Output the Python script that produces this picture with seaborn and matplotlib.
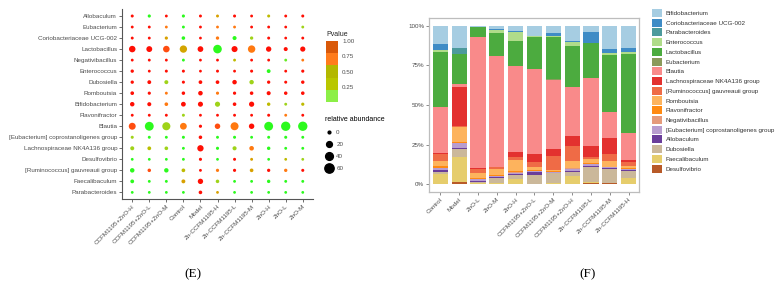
import numpy as np
import pandas as pd
import matplotlib
matplotlib.use("Agg")
import matplotlib.pyplot as plt
from matplotlib.colors import LinearSegmentedColormap, ListedColormap, Normalize
from matplotlib.cm import ScalarMappable
from matplotlib.patches import Patch
from matplotlib.lines import Line2D
import seaborn as sns

plt.rcParams['font.family'] = ['Liberation Sans', 'DejaVu Sans']

# samples in bar order (panel F)
samples = ["Control", "Model", "ZnO-L", "ZnO-M", "ZnO-H",
           "CCFM1195+ZnO-L", "CCFM1195+ZnO-M", "CCFM1195+ZnO-H",
           "Zn-CCFM1195-L", "Zn-CCFM1195-M", "Zn-CCFM1195-H"]

# genera, legend order (top of stack first)
genera = ["Bifidobacterium", "Coriobacteriaceae UCG-002", "Parabacteroides",
          "Enterococcus", "Lactobacillus", "Eubacterium", "Blautia",
          "Lachnospiraceae NK4A136 group", "[Ruminococcus] gauvreauii group",
          "Romboutsia", "Flavonifractor", "Negativibacillus",
          "[Eubacterium] coprostanoligenes group", "Allobaculum",
          "Dubosiella", "Faecalibaculum", "Desulfovibrio"]

genus_colors = ["#a6cde2", "#3f8cc6", "#4c9a9c", "#b0dc8a", "#4cab3f",
                "#8a9a5b", "#f98a8a", "#e3312f", "#ef6b46", "#fdb35d",
                "#ff8a12", "#e59b7b", "#b89dcf", "#6a3d9a", "#cbb89a",
                "#e6cd6c", "#b85a28"]

# relative abundance (%), one value per sample
abundance = {
    "Bifidobacterium":  [11.4, 13.7, 0.5, 2.0, 3.2, 6.5, 4.2, 9.3, 4.0, 14.8, 14.1],
    "Coriobacteriaceae UCG-002": [3.8, 0, 0, 0.5, 0.8, 0.3, 1.9, 0.6, 6.6, 2.5, 2.6],
    "Parabacteroides":  [0, 4.0, 0, 0, 0, 0, 0, 0, 0, 0, 0],
    "Enterococcus":     [1.0, 0, 0.3, 1.7, 5.3, 0.2, 0.9, 2.6, 0.3, 1.1, 0.8],
    "Lactobacillus":    [34.8, 19.0, 6.4, 14.6, 16.0, 20.4, 26.8, 26.1, 21.9, 35.8, 50.0],
    "Eubacterium":      [0.5, 0.3, 0, 0.3, 0.3, 0.3, 0.3, 0.3, 0.3, 0.3, 0.3],
    "Blautia":          [28.9, 1.8, 82.9, 69.9, 53.9, 53.5, 43.7, 30.7, 42.7, 16.6, 17.0],
    "Lachnospiraceae NK4A136 group": [0.3, 24.5, 0.3, 0.3, 3.2, 4.9, 4.3, 6.4, 6.9, 10.1, 1.5],
    "[Ruminococcus] gauvreauii group": [4.6, 0.3, 2.6, 1.2, 2.3, 3.4, 9.0, 9.4, 1.7, 4.2, 2.1],
    "Romboutsia":       [3.3, 10.0, 3.4, 3.8, 6.6, 1.8, 0.6, 4.3, 2.1, 3.6, 1.7],
    "Flavonifractor":   [1.0, 0.2, 0.4, 0.4, 0.9, 0.4, 0.5, 0.4, 0.5, 0.3, 0.3],
    "Negativibacillus": [0.5, 0, 0.2, 0.2, 0.3, 0.3, 0.3, 0.2, 0.3, 0.2, 0.2],
    "[Eubacterium] coprostanoligenes group": [1.0, 3.6, 1.2, 0.5, 0.7, 0.7, 0.5, 1.2, 1.1, 0.4, 0.6],
    "Allobaculum":      [1.5, 0.7, 0.4, 1.0, 1.0, 1.8, 0.3, 1.0, 1.0, 0.3, 0.8],
    "Dubosiella":       [1.3, 4.6, 1.0, 3.1, 2.5, 5.4, 6.2, 2.5, 9.5, 9.0, 4.4],
    "Faecalibaculum":   [5.8, 15.8, 0.4, 0.5, 3.0, 0.3, 0.5, 5.0, 0.2, 0.2, 3.6],
    "Desulfovibrio":    [0.3, 1.5, 0, 0, 0, 0, 0, 0, 0.9, 0.6, 0],
}

# panel E: rows top to bottom, columns left to right
dot_rows = ["Allobaculum", "Eubacterium", "Coriobacteriaceae UCG-002",
            "Lactobacillus", "Negativibacillus", "Enterococcus", "Dubosiella",
            "Romboutsia", "Bifidobacterium", "Flavonifractor", "Blautia",
            "[Eubacterium] coprostanoligenes group",
            "Lachnospiraceae NK4A136 group", "Desulfovibrio",
            "[Ruminococcus] gauvreauii group", "Faecalibaculum", "Parabacteroides"]
dot_cols = ["CCFM1195+ZnO-H", "CCFM1195+ZnO-L", "CCFM1195+ZnO-M", "Control",
            "Model", "Zn-CCFM1195-H", "Zn-CCFM1195-L", "Zn-CCFM1195-M",
            "ZnO-H", "ZnO-L", "ZnO-M"]

pvalue = {
    "Allobaculum":      [0.97, 0.05, 0.97, 0.05, 0.97, 0.62, 0.97, 0.97, 0.52, 0.97, 0.97],
    "Eubacterium":      [0.97, 0.97, 0.75, 0.05, 0.97, 0.75, 0.75, 0.97, 0.97, 0.97, 0.38],
    "Coriobacteriaceae UCG-002": [0.97, 0.97, 0.62, 0.05, 0.97, 0.75, 0.05, 0.38, 0.97, 0.97, 0.97],
    "Lactobacillus":    [0.97, 0.97, 0.85, 0.60, 0.97, 0.05, 0.97, 0.75, 0.97, 0.97, 0.97],
    "Negativibacillus": [0.97, 0.97, 0.97, 0.05, 0.97, 0.97, 0.52, 0.97, 0.97, 0.20, 0.75],
    "Enterococcus":     [0.97, 0.97, 0.97, 0.97, 0.97, 0.97, 0.97, 0.97, 0.05, 0.97, 0.97],
    "Dubosiella":       [0.97, 0.97, 0.38, 0.97, 0.97, 0.97, 0.97, 0.38, 0.97, 0.97, 0.97],
    "Romboutsia":       [0.97, 0.97, 0.75, 0.97, 0.97, 0.75, 0.97, 0.97, 0.97, 0.97, 0.97],
    "Bifidobacterium":  [0.97, 0.97, 0.75, 0.97, 0.97, 0.38, 0.97, 0.97, 0.52, 0.38, 0.52],
    "Flavonifractor":   [0.97, 0.97, 0.97, 0.38, 0.97, 0.97, 0.97, 0.97, 0.97, 0.75, 0.97],
    "Blautia":          [0.85, 0.05, 0.38, 0.75, 0.97, 0.85, 0.75, 0.97, 0.05, 0.05, 0.05],
    "[Eubacterium] coprostanoligenes group": [0.38, 0.05, 0.05, 0.05, 0.97, 0.05, 0.05, 0.05, 0.05, 0.05, 0.05],
    "Lachnospiraceae NK4A136 group": [0.38, 0.50, 0.38, 0.05, 0.97, 0.05, 0.38, 0.75, 0.05, 0.05, 0.05],
    "Desulfovibrio":    [0.05, 0.05, 0.05, 0.05, 0.97, 0.05, 0.97, 0.62, 0.05, 0.52, 0.38],
    "[Ruminococcus] gauvreauii group": [0.05, 0.85, 0.05, 0.52, 0.97, 0.75, 0.97, 0.62, 0.97, 0.75, 0.97],
    "Faecalibaculum":   [0.05, 0.05, 0.05, 0.62, 0.97, 0.38, 0.05, 0.05, 0.05, 0.05, 0.05],
    "Parabacteroides":  [0.05, 0.05, 0.05, 0.05, 0.97, 0.62, 0.05, 0.05, 0.05, 0.05, 0.05],
}

size_breaks = [0, 20, 40, 60]
p_breaks = [0.25, 0.50, 0.75, 1.00]

#### long tables
rows = []
for g in dot_rows:
    for j, c in enumerate(dot_cols):
        rows.append({"genus": g, "group": c, "pvalue": pvalue[g][j],
                     "abundance": abundance[g][samples.index(c)]})
dot_df = pd.DataFrame(rows)

bar_rows = []
for g in genera:
    for i, s in enumerate(samples):
        bar_rows.append({"sample": s, "genus": g, "abundance": abundance[g][i]})
bar_df = pd.DataFrame(bar_rows)
bar_df["sample"] = pd.Categorical(bar_df["sample"], categories=samples, ordered=True)

cmap = LinearSegmentedColormap.from_list(
    "pv", [(0.0, "#1aff1a"), (0.3, "#8fe02a"), (0.5, "#b8c000"), (0.62, "#d8a000"),
           (0.75, "#ff7a10"), (0.88, "#ff4010"), (1.0, "#ff0000")])
size_range = (4, 45)

def dot_area(v):
    return size_range[0] + v / 60 * (size_range[1] - size_range[0])

fig = plt.figure(figsize=(7.8, 2.86), dpi=100)
W, H = 780, 286
txt_col = "#4d4d4d"
fs = 4.5

########## panel E
ax_e = fig.add_axes([122 / W, 1 - 199 / H, 191 / W, 189.6 / H])
sns.scatterplot(data=dot_df, x="group", y="genus", hue="pvalue", size="abundance",
                palette=cmap, hue_norm=(0, 1), sizes=size_range, size_norm=(0, 60),
                linewidth=0, legend=False, ax=ax_e)
ax_e.set_xlim(-0.6, len(dot_cols) - 0.4)
ax_e.set_ylim(len(dot_rows) - 0.4, -0.6)
ax_e.set_xlabel("")
ax_e.set_ylabel("")
for s in ["top", "right"]:
    ax_e.spines[s].set_visible(False)
for s in ["left", "bottom"]:
    ax_e.spines[s].set_color("#555555")
    ax_e.spines[s].set_linewidth(0.8)
ax_e.tick_params(length=2, width=0.6, color="#555555", labelsize=fs, labelcolor=txt_col, pad=1.5)
plt.setp(ax_e.get_xticklabels(), rotation=45, ha="right", va="top", rotation_mode="anchor")

# Pvalue colorbar
fig.text(326 / W, 1 - 34 / H, "Pvalue", fontsize=5, color="#222222", va="center", ha="left")
cax = fig.add_axes([326 / W, 1 - 102 / H, 12 / W, 61 / H])
step_cmap = ListedColormap(["#8cef47", "#b9c700", "#b3b800", "#ff7c1c", "#d9590a"])
cb = fig.colorbar(ScalarMappable(norm=Normalize(0, 1), cmap=step_cmap), cax=cax, ticks=p_breaks)
cb.outline.set_visible(False)
cb.ax.tick_params(length=0, labelsize=fs, labelcolor=txt_col, pad=3)
cb.ax.set_yticklabels(["%.2f" % b for b in p_breaks])

# size legend
size_handles = [Line2D([], [], ls="", marker="o", color="black",
                       markersize=np.sqrt(dot_area(v))) for v in size_breaks]
leg_e = fig.legend(size_handles, [str(v) for v in size_breaks], title="relative abundance",
                   loc="upper left", bbox_to_anchor=(325 / W, 1 - 116 / H), frameon=False,
                   fontsize=fs, title_fontsize=5, alignment="left", labelspacing=1.05,
                   handlelength=1.2, handletextpad=0.6, borderpad=0, borderaxespad=0)
for t in leg_e.get_texts():
    t.set_color(txt_col)

########## panel F
ax_f = fig.add_axes([429 / W, 1 - 192 / H, 210 / W, 174 / H])
sns.histplot(data=bar_df, x="sample", weights="abundance", hue="genus", hue_order=genera,
             multiple="stack", discrete=True, shrink=0.8, alpha=1, linewidth=0,
             palette=dict(zip(genera, genus_colors)), legend=False, ax=ax_f)
ax_f.set_xlim(-0.6, len(samples) - 0.45)
ax_f.set_ylim(-5, 105)
ax_f.set_yticks([0, 25, 50, 75, 100])
ax_f.set_yticklabels(["0%", "25%", "50%", "75%", "100%"])
ax_f.set_xticks(range(len(samples)))
ax_f.set_xticklabels(samples)
ax_f.set_xlabel("")
ax_f.set_ylabel("")
for s in ax_f.spines.values():
    s.set_color("#bdbdbd")
    s.set_linewidth(0.9)
ax_f.tick_params(length=2, width=0.6, color="#777777", labelsize=fs, labelcolor=txt_col, pad=1.5)
plt.setp(ax_f.get_xticklabels(), rotation=45, ha="right", va="top", rotation_mode="anchor")

handles = [Patch(facecolor=c, edgecolor="none") for c in genus_colors]
leg_f = fig.legend(handles, genera, loc="upper left", bbox_to_anchor=(652 / W, 1 - 9 / H),
                   frameon=False, fontsize=fs, handlelength=1.6, handleheight=1.6,
                   labelspacing=0.27, handletextpad=0.6, borderpad=0, borderaxespad=0)
for t in leg_f.get_texts():
    t.set_color("#333333")

# panel labels
fig.text(193 / W, 1 - 274 / H, "(E)", fontsize=9.5, family="Liberation Serif", ha="center", va="center")
fig.text(588 / W, 1 - 274 / H, "(F)", fontsize=9.5, family="Liberation Serif", ha="center", va="center")

fig.savefig("out.png", dpi=100, facecolor="white")
